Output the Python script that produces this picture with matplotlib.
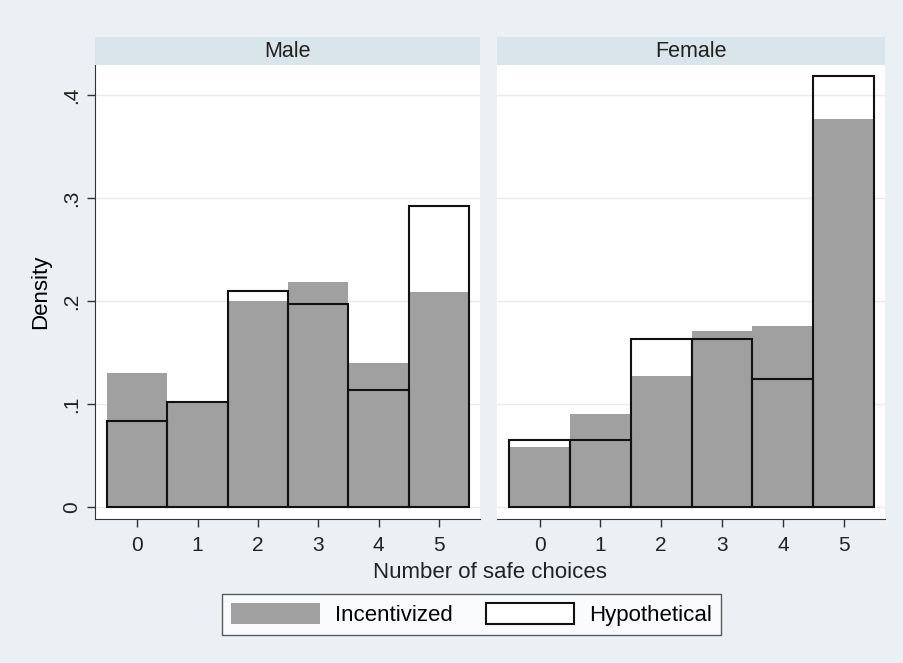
import numpy as np
import matplotlib.pyplot as plt
from matplotlib.patches import Patch

plt.rcParams['font.family'] = ['Liberation Sans', 'DejaVu Sans']

choices = [0, 1, 2, 3, 4, 5]
panels = ['Male', 'Female']

# densities
male_incent = [0.130, 0.102, 0.200, 0.218, 0.140, 0.209]
male_hypo = [0.083, 0.102, 0.210, 0.197, 0.114, 0.292]
female_incent = [0.058, 0.090, 0.127, 0.171, 0.176, 0.377]
female_hypo = [0.065, 0.065, 0.163, 0.163, 0.124, 0.418]

yticks = [0, 0.1, 0.2, 0.3, 0.4]
ytick_labels = ['0', '.1', '.2', '.3', '.4']

bg = '#EAF0F3'
header_col = '#D9E4EB'
gray = '#A0A0A0'
W, H = 904, 663

fig = plt.figure(figsize=(W / 100, H / 100), dpi=100, facecolor=bg)


def px(x0, y0, x1, y1):
    return [x0 / W, 1 - y1 / H, (x1 - x0) / W, (y1 - y0) / H]


data = {'Male': (male_incent, male_hypo), 'Female': (female_incent, female_hypo)}
bounds = {'Male': (95, 480), 'Female': (497, 885)}

for name in panels:
    x0, x1 = bounds[name]
    ax = fig.add_axes(px(x0, 65, x1, 519))
    ax.set_facecolor('white')
    inc, hyp = data[name]
    ax.bar(choices, inc, width=1.0, color=gray, edgecolor='none', zorder=2)
    ax.bar(choices, hyp, width=1.0, fill=False, edgecolor='#111111', linewidth=1.5, zorder=3)
    ax.set_xlim(-0.7, 5.68)
    ax.set_ylim(-0.0117, 0.429)
    ax.set_yticks(yticks)
    for y in yticks:
        ax.axhline(y, color='#EAEAEA', linewidth=1.0, zorder=1)
    ax.set_xticks(choices)
    ax.set_xticklabels([str(c) for c in choices], fontsize=15, color='#222222')
    ax.tick_params(axis='x', length=6, width=1, color='#333333', pad=6)
    for s in ['top', 'right']:
        ax.spines[s].set_visible(False)
    ax.spines['bottom'].set_color('#333333')
    if name == 'Male':
        ax.set_yticklabels(ytick_labels, fontsize=15, color='#222222', rotation=90, va='center')
        ax.tick_params(axis='y', length=6, width=1, color='#333333', pad=4)
        ax.spines['left'].set_color('#333333')
        ax.set_ylabel('Density', fontsize=16, labelpad=8)
    else:
        ax.tick_params(axis='y', length=0, labelleft=False)
        ax.spines['left'].set_visible(False)

    hd = fig.add_axes(px(x0, 37, x1, 65))
    hd.set_facecolor(header_col)
    hd.set_xticks([])
    hd.set_yticks([])
    for s in hd.spines.values():
        s.set_visible(False)
    hd.text(0.5, 0.48, name, ha='center', va='center', fontsize=15.5, color='#222222',
            transform=hd.transAxes)

fig.text(490 / W, 1 - 573 / H, 'Number of safe choices', ha='center', va='center',
         fontsize=16, color='#222222')

handles = [Patch(facecolor=gray, edgecolor='none', label='Incentivized'),
           Patch(facecolor='white', edgecolor='#111111', linewidth=1.5, label='Hypothetical')]
leg = fig.legend(handles=handles, loc='center', ncol=2,
                 bbox_to_anchor=(471.5 / W, 1 - 614.5 / H), fontsize=16,
                 handlelength=4.0, handleheight=1.1, handletextpad=0.65,
                 columnspacing=1.5, frameon=True, fancybox=False, borderpad=0.4)
leg.get_frame().set_edgecolor('#333333')
leg.get_frame().set_linewidth(1.0)

fig.savefig('out.png', dpi=100, facecolor=bg)
